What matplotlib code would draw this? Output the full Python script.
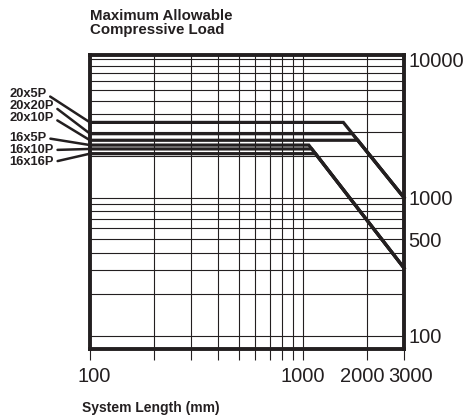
import matplotlib
matplotlib.use("Agg")
import matplotlib.pyplot as plt
from matplotlib.ticker import FixedLocator, NullFormatter
import matplotlib.transforms as mtransforms

plt.rcParams['font.family'] = ['Liberation Sans', 'DejaVu Sans']

# ---- data ----
labels = ['20x5P', '20x20P', '20x10P', '16x5P', '16x10P', '16x16P']
loads = [3500, 2900, 2600, 2400, 2250, 2080]          # flat part (max allowable load)
break_len = [1555, 1715, 1820, 1070, 1105, 1150]      # length where buckling starts
end_load = [1000, 1000, 1000, 310, 310, 310]          # load at 3000 mm
x_start = 100
x_end = 3000

x_major = [100, 1000, 2000, 3000]
x_minor = [200, 300, 400, 500, 600, 700, 800, 900]
y_major = [100, 500, 1000, 10000]
y_minor = [200, 300, 400, 600, 700, 800, 900,
           2000, 3000, 4000, 5000, 6000, 7000, 8000, 9000]

label_img_y = [94, 106, 118, 138, 150, 162]   # label positions (image px from top)

W, H = 466, 417
fig = plt.figure(figsize=(W / 100, H / 100), dpi=100)
ax = fig.add_axes([90 / W, 1 - 349 / H, (404 - 90) / W, (349 - 55) / H])
ax.set_xscale('log')
ax.set_yscale('log')
ax.set_xlim(100, 3000)
ax.set_ylim(80.5, 10750)

dark = '#231f20'

# grid
for v in x_major + x_minor:
    ax.axvline(v, color=dark, lw=0.8, zorder=1)
for v in y_major + y_minor:
    ax.axhline(v, color=dark, lw=0.8, zorder=1)

# curves
for p, lb, pe in zip(loads, break_len, end_load):
    ax.plot([x_start, lb, x_end], [p, p, pe], color=dark, lw=2.3,
            solid_joinstyle='miter', zorder=3, clip_on=False)

# ticks
ax.xaxis.set_major_locator(FixedLocator(x_major))
ax.xaxis.set_minor_locator(FixedLocator(x_minor))
ax.set_xticklabels([str(v) for v in x_major])
ax.xaxis.set_minor_formatter(NullFormatter())
ax.tick_params(axis='x', which='both', direction='out', length=8, width=0.8,
               color=dark, labelsize=14.5, pad=5, labelcolor=dark)
# small horizontal nudges so "2000" and "3000" do not touch
shifts = [4, 0, -4, 7]
for lbl, dx in zip(ax.get_xticklabels(), shifts):
    lbl.set_transform(lbl.get_transform() +
                      mtransforms.ScaledTranslation(dx / 100, 0, fig.dpi_scale_trans))

ax.yaxis.tick_right()
ax.yaxis.set_major_locator(FixedLocator(y_major))
ax.yaxis.set_minor_locator(FixedLocator(y_minor))
ax.set_yticklabels([str(v) for v in y_major])
ax.yaxis.set_minor_formatter(NullFormatter())
ax.tick_params(axis='y', which='both', length=0, labelsize=14.5, pad=3,
               labelcolor=dark)

for s in ax.spines.values():
    s.set_linewidth(2.8)
    s.set_color(dark)
    s.set_zorder(5)

# labels with leader lines
for lab, p, iy in zip(labels, loads, label_img_y):
    ax.annotate(lab, xy=(100, p), xycoords='data',
                xytext=(9, H - iy), textcoords='figure pixels',
                ha='left', va='center', fontsize=9.3, fontweight='bold',
                color=dark, annotation_clip=False,
                arrowprops=dict(arrowstyle='-', color=dark, lw=1.8,
                                shrinkA=1, shrinkB=0, relpos=(1.0, 0.5)))

fig.text(90 / W, 1 - 9 / H, 'Maximum Allowable\nCompressive Load',
         ha='left', va='top', fontsize=10.8, fontweight='bold', color=dark,
         linespacing=1.0)
fig.text(82 / W, 1 - 408 / H, 'System Length (mm)', ha='left', va='center',
         fontsize=10, fontweight='bold', color=dark)

fig.savefig('out.png', dpi=100)
